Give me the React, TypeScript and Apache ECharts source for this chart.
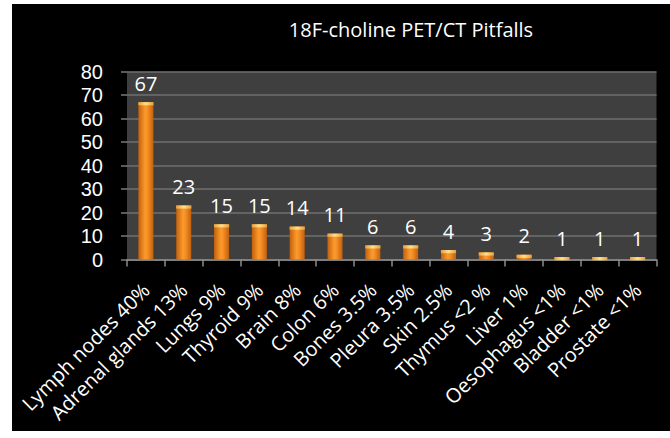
import React, { useEffect, useRef } from "react";
import * as echarts from "echarts";

const titleText = "18F-choline PET/CT Pitfalls";
const categories = [
  "Lymph nodes 40%",
  "Adrenal glands 13%",
  "Lungs 9%",
  "Thyroid 9%",
  "Brain 8%",
  "Colon 6%",
  "Bones 3.5%",
  "Pleura 3.5%",
  "Skin 2.5%",
  "Thymus <2 %",
  "Liver 1%",
  "Oesophagus <1%",
  "Bladder <1%",
  "Prostate <1%",
];
const values = [67, 23, 15, 15, 14, 11, 6, 6, 4, 3, 2, 1, 1, 1];
const yMin = 0;
const yMax = 80;
const yInterval = 10;

const FONT = "'Open Sans', 'Noto Sans', sans-serif";
const YFONT = "'Liberation Sans', Arial, sans-serif";

export default function App() {
  const ref = useRef<HTMLDivElement>(null);
  useEffect(() => {
    document.body.style.margin = "0";
    document.body.style.background = "#ffffff";
    if (!ref.current) return;
    const chart = echarts.init(ref.current, undefined, { renderer: "svg" });
    chart.setOption({
      animation: false,
      backgroundColor: "#000000",
      title: {
        text: titleText,
        left: 399,
        textAlign: "center",
        top: 15,
        padding: 0,
        textStyle: { color: "#ffffff", fontSize: 20, fontWeight: "normal", fontFamily: FONT },
      },
      grid: {
        left: 115,
        right: 13.5,
        top: 67.7,
        bottom: 171.5,
        show: true,
        backgroundColor: "#3f3f3f",
        borderWidth: 0,
      },
      xAxis: {
        type: "category",
        data: categories,
        axisLine: { show: true, lineStyle: { color: "#8c8c8c", width: 1.5 } },
        axisTick: { show: true, length: 7, lineStyle: { color: "#8c8c8c", width: 1.5 } },
        axisLabel: {
          interval: 0,
          rotate: 45,
          color: "#ffffff",
          fontSize: 20,
          fontFamily: FONT,
          margin: 27,
        },
      },
      yAxis: {
        type: "value",
        min: yMin,
        max: yMax,
        interval: yInterval,
        axisLine: { show: false },
        axisTick: { show: true, length: 6, lineStyle: { color: "#7a7a7a", width: 1.5 } },
        splitLine: { show: true, lineStyle: { color: "#717171", width: 1.5 } },
        axisLabel: {
          color: "#ffffff",
          fontSize: 20,
          lineHeight: 20,
          fontFamily: YFONT,
          margin: 24,
        },
      },
      series: [
        {
          type: "bar",
          data: values,
          barWidth: 15,
          itemStyle: {
            color: {
              type: "linear",
              x: 0,
              y: 0,
              x2: 1,
              y2: 0,
              colorStops: [
                { offset: 0, color: "#c4600c" },
                { offset: 0.45, color: "#fb9a2c" },
                { offset: 0.6, color: "#f79026" },
                { offset: 1, color: "#c2600e" },
              ],
            },
          },
          label: {
            show: true,
            position: "top",
            distance: 9,
            color: "#ffffff",
            fontSize: 20,
            fontFamily: FONT,
          },
          z: 2,
        },
        {
          type: "pictorialBar",
          data: values,
          symbol: "rect",
          symbolPosition: "end",
          symbolSize: [15, 3],
          symbolOffset: [0, 0],
          itemStyle: {
            color: {
              type: "linear",
              x: 0,
              y: 0,
              x2: 1,
              y2: 0,
              colorStops: [
                { offset: 0, color: "#e6a040" },
                { offset: 0.5, color: "#ffe08a" },
                { offset: 1, color: "#e6a040" },
              ],
            },
          },
          silent: true,
          z: 3,
        },
      ],
    });
    return () => chart.dispose();
  }, []);
  return (
    <div
      ref={ref}
      style={{ position: "absolute", left: 12, top: 4, width: 658, height: 427 }}
    />
  );
}
